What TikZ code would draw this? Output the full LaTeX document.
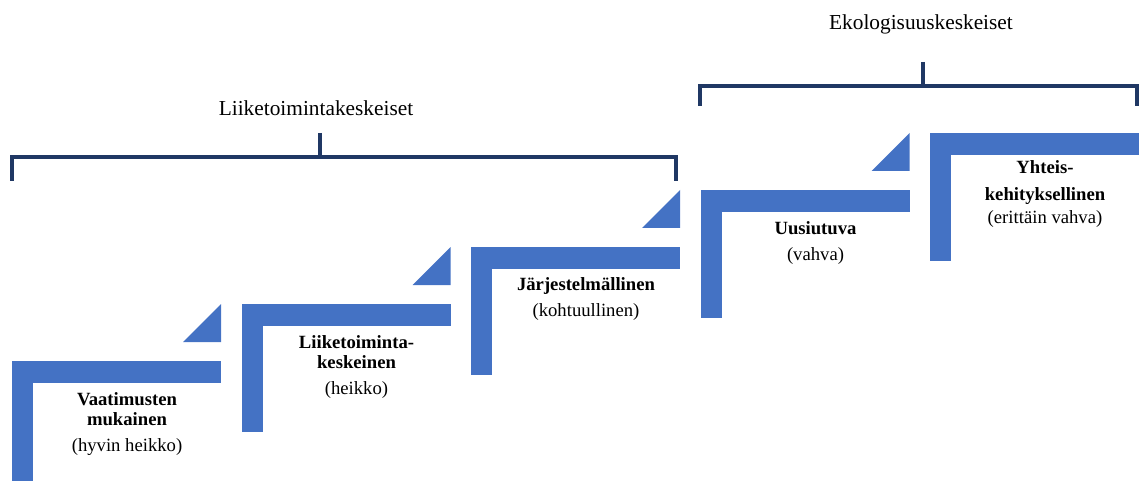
\documentclass[tikz,border=0pt]{standalone}
\usepackage{fontspec}
\setmainfont{Liberation Serif}
\definecolor{stepblue}{HTML}{4472C4}
\definecolor{bracketnavy}{HTML}{203864}
\tikzset{
  stepbar/.style={fill=stepblue},
  bracket/.style={draw=bracketnavy,line width=3pt},
  steplabel/.style={anchor=north,align=center,inner sep=0pt,
    font=\fontsize{14pt}{15pt}\selectfont},
  grouplabel/.style={font=\fontsize{16pt}{18pt}\selectfont}
}
\begin{document}
\begin{tikzpicture}[x=0.75pt,y=-0.75pt]
\clip (0,0) rectangle (1139,481);
% stairs
\foreach \i/\dy/\nm/\txt in {
  0/31/vaatimus/{\textbf{Vaatimusten}\\\textbf{mukainen}\\[4.5pt](hyvin heikko)},
  1/31/liiketoim/{\textbf{Liiketoiminta-}\\\textbf{keskeinen}\\[4.5pt](heikko)},
  2/30/jarjest/{\textbf{Järjestelmällinen}\\[4.5pt](kohtuullinen)},
  3/31/uusiutuva/{\textbf{Uusiutuva}\\[4.5pt](vahva)},
  4/27/yhteis/{\textbf{Yhteis-}\\[5.25pt]\textbf{kehityksellinen}\\[2.6pt](erittäin vahva)}} {
  \pgfmathsetmacro{\sx}{12+229.5*\i}
  \pgfmathsetmacro{\sy}{361-57*\i}
  \fill[stepbar] (\sx,\sy) rectangle ++(209,22);
  \fill[stepbar] (\sx,\sy) rectangle ++(21,128);
  \node[steplabel] (\nm) at (\sx+115,\sy+\dy) {\txt};
}
% triangles
\foreach \i in {0,...,3} {
  \pgfmathsetmacro{\tx}{221+229.5*\i}
  \pgfmathsetmacro{\ty}{342-57*\i}
  \fill[stepbar] (\tx,\ty) -- ++(-38,0) -- ++(38,-38) -- cycle;
}
% brackets
\draw[bracket] (12,181) -- (12,157) -- (676,157) -- (676,181);
\draw[bracket] (320,133) -- (320,157);
\node[grouplabel] (liikeryhma) at (316,108) {Liiketoimintakeskeiset};
\draw[bracket] (700,106) -- (700,86) -- (1137,86) -- (1137,106);
\draw[bracket] (923,62) -- (923,86);
\node[grouplabel] (ekoryhma) at (921,24) {Ekologisuuskeskeiset};
\end{tikzpicture}
\end{document}
